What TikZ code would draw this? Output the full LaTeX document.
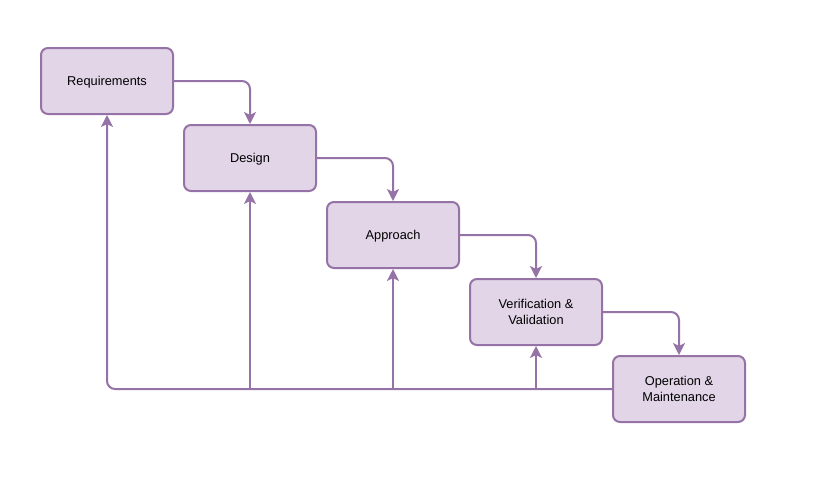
\documentclass[tikz,border=0pt]{standalone}
\usepackage{fontspec}
\setmainfont{Liberation Sans}
\usetikzlibrary{arrows.meta}

\definecolor{boxfill}{HTML}{E1D5E7}
\definecolor{boxline}{HTML}{9673A6}

\begin{document}
\begin{tikzpicture}[x=1pt,y=-1pt,
	stage/.style={draw=boxline,fill=boxfill,line width=2pt,rounded corners=7pt,
		minimum width=132pt,minimum height=66pt,align=center,font=\fontsize{12.8}{15.5}\selectfont},
	flow/.style={draw=boxline,line width=2pt,rounded corners=8pt,
		-{Stealth[length=12pt,width=12pt,inset=3pt]}}]
	\useasboundingbox (0,0) rectangle (824,483);
	\node[stage,text depth=0pt] (req) at (107,81) {Requirements};
	\node[stage,text depth=0pt] (des) at (250,158) {Design};
	\node[stage,text depth=0pt] (app) at (393,235) {Approach};
	\node[stage] (ver) at (536,312) {Verification \&\\Validation};
	\node[stage] (ops) at (679,389) {Operation \&\\Maintenance};
	% forward steps
	\draw[flow] (req.east) -| (des.north);
	\draw[flow] (des.east) -| (app.north);
	\draw[flow] (app.east) -| (ver.north);
	\draw[flow] (ver.east) -| (ops.north);
	% feedback
	\draw[flow] (ops.west) -| (req.south);
	\draw[flow] (des.south |- ops.west) -- (des.south);
	\draw[flow] (app.south |- ops.west) -- (app.south);
	\draw[flow] (ver.south |- ops.west) -- (ver.south);
\end{tikzpicture}
\end{document}
